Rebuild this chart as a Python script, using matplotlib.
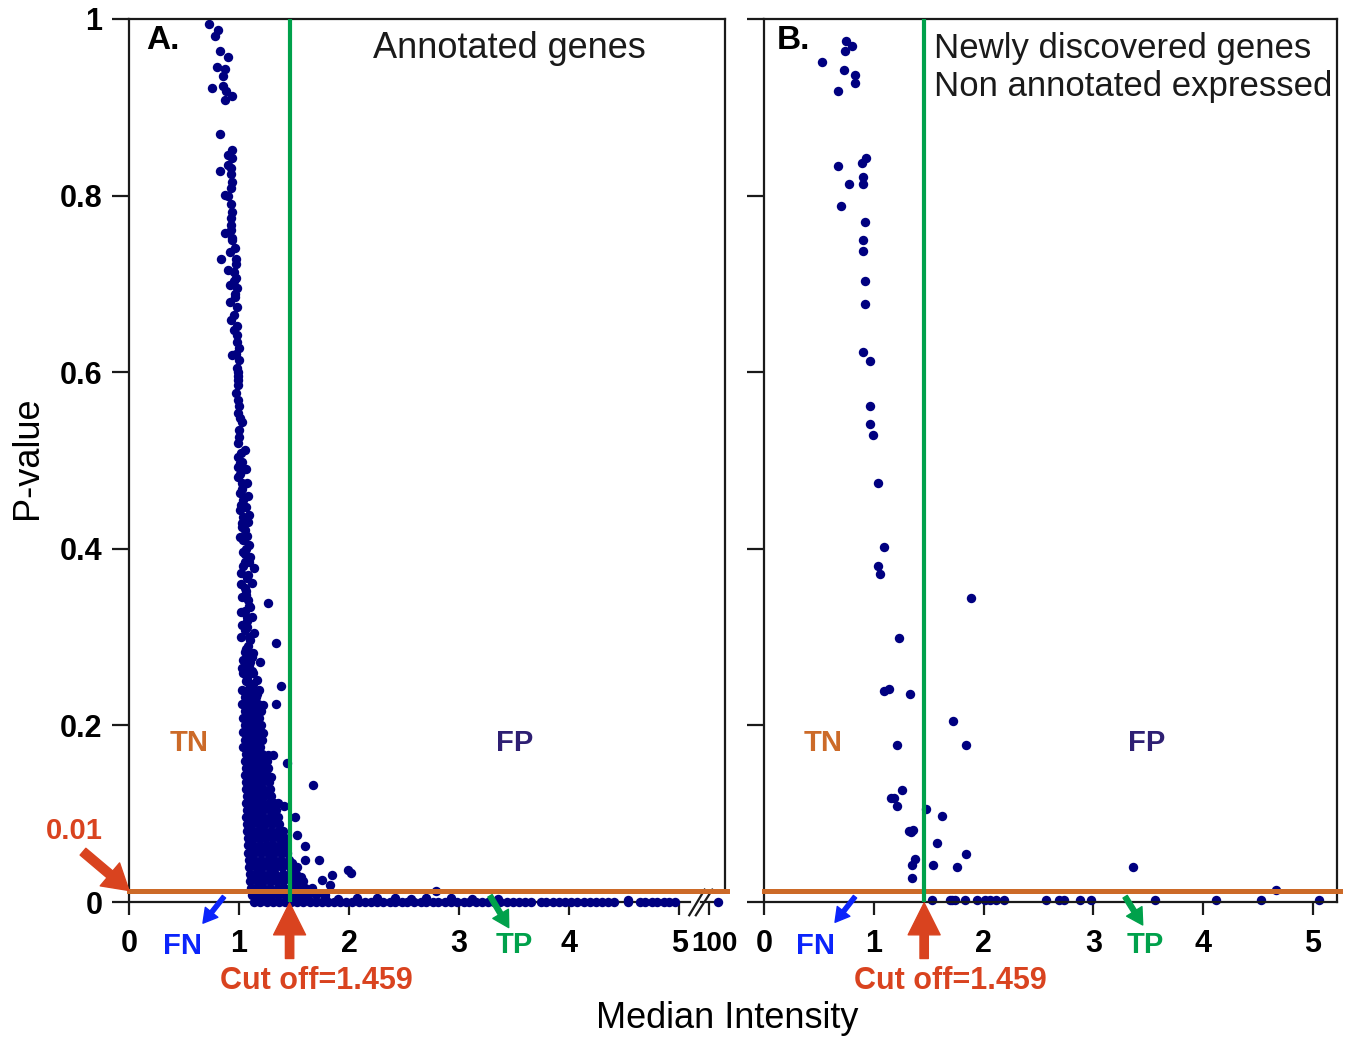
import numpy as np
import matplotlib.pyplot as plt

plt.rcParams["font.family"] = ["Liberation Sans", "DejaVu Sans"]

CUTOFF = 1.459
P_LINE = 0.013  # where the 0.01 threshold line is drawn

NAVY = "#000080"
GREEN = "#00a14b"
ORANGE = "#cc6a28"
RED = "#d9431f"
BLUE = "#0b24fb"
PURPLE = "#2e1f73"

# ---------------- panel A: annotated genes ----------------
# upper tail of the cloud (median intensity, p-value)
a_tail_x = [0.73, 0.81, 0.78, 0.83, 0.90, 0.80, 0.87, 0.85, 0.75, 0.85, 0.88, 0.94, 0.87,
            0.83, 0.94, 0.90, 0.94, 0.90, 0.93, 0.83, 0.93, 0.94, 0.93, 0.87, 0.90, 0.93,
            0.94, 0.93, 0.93, 0.87, 0.93, 0.94,
            0.94, 0.92, 0.84, 0.97, 0.90, 0.95, 0.97, 0.92, 0.98, 0.96, 0.92, 0.98, 0.95,
            0.93, 0.95, 0.98, 0.98, 1.00, 0.94, 1.00, 0.98, 0.99, 0.99, 0.99, 0.97, 0.99,
            0.99, 1.03, 1.00, 0.99, 1.05, 0.99, 1.03, 0.99,
            1.01, 1.03, 0.99, 1.04, 1.01, 1.04, 1.09, 1.01, 1.03, 1.05, 1.01, 1.09, 1.04,
            1.10, 1.05, 1.14, 1.02, 1.07, 1.12, 1.05, 1.03, 1.08, 1.26, 1.10, 1.02, 1.07,
            1.12, 1.03, 1.05, 1.14, 1.10, 1.34, 1.05, 1.13, 1.04, 1.10, 1.19, 1.08, 1.04,
            1.13, 1.07, 1.16, 1.38, 1.10,
            1.06, 1.07, 1.08, 1.06, 1.08, 1.07, 1.06, 1.09, 1.08, 1.06, 1.09, 1.07, 1.09,
            1.08, 1.12, 1.09, 1.12, 1.06, 1.13, 1.02, 1.02, 1.03, 1.04, 1.02, 1.03,
            0.96, 0.97, 0.95, 0.96, 0.98, 0.97, 0.99, 1.00, 1.01, 1.00, 1.02, 1.01, 1.03,
            1.04, 1.03, 1.05, 1.04, 1.06, 1.05, 1.07, 1.06, 1.08, 1.07, 1.09]
a_tail_p = [0.994, 0.988, 0.981, 0.964, 0.957, 0.946, 0.943, 0.935, 0.922, 0.924, 0.918,
            0.913, 0.908, 0.870, 0.852, 0.846, 0.843, 0.835, 0.831, 0.828, 0.824, 0.815,
            0.809, 0.801, 0.800, 0.790, 0.781, 0.775, 0.767, 0.758, 0.761, 0.752,
            0.750, 0.736, 0.728, 0.728, 0.716, 0.714, 0.707, 0.699, 0.695, 0.685, 0.680,
            0.674, 0.665, 0.659, 0.648, 0.642, 0.634, 0.627, 0.619, 0.614, 0.605, 0.600,
            0.591, 0.585, 0.576, 0.569, 0.554, 0.544, 0.535, 0.520, 0.512, 0.504, 0.498,
            0.493,
            0.497, 0.489, 0.481, 0.472, 0.463, 0.455, 0.438, 0.444, 0.429, 0.421, 0.413,
            0.404, 0.396, 0.391, 0.385, 0.378, 0.373, 0.367, 0.361, 0.356, 0.345, 0.342,
            0.339, 0.334, 0.328, 0.323, 0.323, 0.314, 0.308, 0.305, 0.297, 0.293, 0.283,
            0.282, 0.274, 0.272, 0.272, 0.265, 0.259, 0.259, 0.254, 0.251, 0.245, 0.243,
            0.490, 0.475, 0.460, 0.447, 0.430, 0.415, 0.400, 0.385, 0.370, 0.352, 0.335,
            0.318, 0.300, 0.290, 0.278, 0.268, 0.262, 0.250, 0.247, 0.360, 0.300, 0.265,
            0.410, 0.450, 0.475,
            0.741, 0.722, 0.703, 0.689, 0.652, 0.621, 0.596, 0.562, 0.548, 0.527, 0.508,
            0.485, 0.468, 0.436, 0.425, 0.394, 0.380, 0.348, 0.330, 0.311, 0.287, 0.277,
            0.256, 0.248]

# dense core just above zero: p-value row -> intensities
a_core = {
    0.240: [1.03, 1.08, 1.13, 1.18],
    0.232: [1.05, 1.10, 1.15],
    0.224: [1.03, 1.07, 1.12, 1.17],
    0.216: [1.05, 1.10, 1.15, 1.20],
    0.208: [1.04, 1.08, 1.13, 1.18],
    0.200: [1.05, 1.10, 1.15, 1.20],
    0.192: [1.04, 1.09, 1.14, 1.18],
    0.184: [1.05, 1.10, 1.15, 1.21],
    0.176: [1.04, 1.09, 1.14, 1.19],
    0.168: [1.06, 1.11, 1.16, 1.21],
    0.160: [1.05, 1.10, 1.15, 1.20, 1.25],
    0.152: [1.06, 1.11, 1.16, 1.21, 1.26],
    0.144: [1.05, 1.10, 1.15, 1.20, 1.25],
    0.136: [1.06, 1.11, 1.16, 1.21, 1.27],
    0.128: [1.06, 1.11, 1.16, 1.22, 1.28],
    0.120: [1.07, 1.12, 1.17, 1.23, 1.29],
    0.112: [1.06, 1.11, 1.16, 1.21, 1.27, 1.32],
    0.104: [1.07, 1.12, 1.17, 1.22, 1.28, 1.34],
    0.096: [1.06, 1.11, 1.16, 1.22, 1.28, 1.35],
    0.088: [1.07, 1.12, 1.18, 1.24, 1.30, 1.36],
    0.080: [1.07, 1.12, 1.17, 1.23, 1.29, 1.35, 1.40],
    0.072: [1.08, 1.13, 1.18, 1.24, 1.30, 1.36, 1.42],
    0.064: [1.08, 1.13, 1.19, 1.25, 1.31, 1.37, 1.43],
    0.056: [1.08, 1.14, 1.20, 1.26, 1.32, 1.38, 1.44],
    0.048: [1.09, 1.14, 1.20, 1.26, 1.32, 1.38, 1.45],
    0.040: [1.09, 1.15, 1.21, 1.27, 1.33, 1.39, 1.46, 1.50],
    0.032: [1.10, 1.15, 1.21, 1.27, 1.33, 1.40, 1.46, 1.52],
    0.024: [1.10, 1.16, 1.22, 1.28, 1.34, 1.40, 1.47, 1.53, 1.58],
    0.016: [1.11, 1.16, 1.22, 1.28, 1.35, 1.41, 1.48, 1.54, 1.60, 1.66],
    0.008: [1.12, 1.17, 1.23, 1.29, 1.35, 1.42, 1.48, 1.55, 1.62, 1.70, 1.78],
}
# genes lying between the rows above
a_core_mid = {
    0.236: [1.06, 1.11, 1.16],
    0.220: [1.06, 1.10, 1.15],
    0.204: [1.07, 1.12, 1.16],
    0.188: [1.07, 1.12, 1.17],
    0.172: [1.07, 1.12, 1.17],
    0.156: [1.08, 1.13, 1.18, 1.23],
    0.140: [1.08, 1.13, 1.18, 1.23],
    0.124: [1.09, 1.14, 1.20, 1.26],
    0.108: [1.09, 1.14, 1.19, 1.25, 1.31],
    0.092: [1.09, 1.14, 1.20, 1.26, 1.33],
    0.076: [1.10, 1.15, 1.21, 1.27, 1.33, 1.38],
    0.060: [1.11, 1.16, 1.22, 1.28, 1.34, 1.40],
    0.044: [1.12, 1.17, 1.23, 1.29, 1.36, 1.42, 1.48],
    0.028: [1.13, 1.18, 1.24, 1.31, 1.37, 1.44, 1.50, 1.56],
    0.012: [1.14, 1.20, 1.26, 1.32, 1.38, 1.45, 1.52, 1.58, 1.65],
}

# scattered points right of the core
a_out_x = [1.34, 1.22, 1.22, 1.26, 1.31, 1.44, 1.67, 1.29, 1.35, 1.41, 1.31, 1.51, 1.53,
           1.60, 1.60, 1.73, 1.53, 1.84, 1.99, 2.02, 1.75, 1.83, 2.79]
a_out_p = [0.224, 0.223, 0.191, 0.166, 0.166, 0.157, 0.132, 0.142, 0.112, 0.109, 0.096,
           0.096, 0.076, 0.063, 0.048, 0.048, 0.040, 0.031, 0.036, 0.033, 0.025, 0.019,
           0.012]

# genes with p ~ 0
a_zero_x = [1.14, 1.19, 1.25, 1.31, 1.36, 1.42, 1.47, 1.53, 1.58, 1.64, 1.70, 1.75, 1.81,
            1.86, 1.92, 1.97, 2.03, 2.09, 2.14, 2.20, 2.25, 2.31, 2.37, 2.42, 2.48, 2.53,
            2.59, 2.65, 2.70, 2.76, 2.81, 2.87, 2.93, 2.98, 3.04, 3.09, 3.15, 3.21, 3.26,
            3.32, 3.37, 3.43, 3.49, 3.54, 3.60, 3.65, 3.74, 3.79, 3.85, 3.91, 3.96, 4.02,
            4.07, 4.13, 4.19, 4.24, 4.30, 4.35, 4.41, 4.53, 4.64, 4.69, 4.75, 4.80, 4.86,
            4.91, 4.96]
a_low_x = [1.52, 1.63, 1.78, 1.90, 2.07, 2.25, 2.42, 2.56, 2.70, 2.93, 3.12, 3.35, 4.53]
a_low_p = [0.004, 0.003, 0.005, 0.003, 0.004, 0.005, 0.005, 0.003, 0.004, 0.004, 0.003,
           0.003, 0.002]

# beyond the axis break
a_far_x = [101.6]
a_far_p = [0.0]

# ---------------- panel B: newly discovered genes ----------------
b_x = [0.75, 0.80, 0.74, 0.53, 0.73, 0.83, 0.83, 0.67, 0.93, 0.89, 0.67, 0.90, 0.77, 0.90,
       0.70, 0.92, 0.90, 0.90, 0.92, 0.92, 0.90, 0.97, 0.97, 0.97, 0.99,
       1.04, 1.09, 1.04, 1.06, 1.89, 1.23, 1.09, 1.14, 1.33, 1.72, 1.21, 1.84, 1.26, 1.16,
       1.18, 1.21, 1.48, 1.62, 1.32, 1.36, 1.34, 1.58, 1.84, 1.38, 1.35, 1.54, 1.76, 3.36,
       1.35, 4.66,
       1.53, 1.69, 1.71, 1.74, 1.83, 1.94, 2.01, 2.06, 2.11, 2.19, 2.57, 2.69, 2.73, 2.88,
       2.98, 3.56, 4.12, 4.53, 5.06]
b_p = [0.975, 0.969, 0.964, 0.951, 0.942, 0.937, 0.927, 0.918, 0.843, 0.837, 0.834, 0.821,
       0.813, 0.813, 0.788, 0.770, 0.750, 0.737, 0.703, 0.677, 0.623, 0.613, 0.562, 0.541,
       0.529,
       0.475, 0.402, 0.381, 0.371, 0.344, 0.299, 0.239, 0.241, 0.236, 0.205, 0.178, 0.178,
       0.127, 0.118, 0.118, 0.109, 0.105, 0.097, 0.080, 0.082, 0.079, 0.067, 0.054, 0.049,
       0.042, 0.042, 0.040, 0.040, 0.027, 0.014,
       0.002, 0.002, 0.002, 0.002, 0.002, 0.002, 0.002, 0.002, 0.002, 0.002, 0.002, 0.002,
       0.002, 0.002, 0.002, 0.002, 0.002, 0.002, 0.002]

y_ticks = [0, 0.2, 0.4, 0.6, 0.8, 1]
y_labels = ["0", "0.2", "0.4", "0.6", "0.8", "1"]
x_ticks = [0, 1, 2, 3, 4, 5]


def brk(x):
    # values past the break (around 100) are squeezed next to 5
    x = np.asarray(x, dtype=float)
    return np.where(x > 10, 5.27 + (x - 100) * 0.05, x)


core = {**a_core, **a_core_mid}
core_x = [x for p, xs in core.items() for x in xs]
core_p = [p for p, xs in core.items() for x in xs]

all_ax = np.concatenate([a_tail_x, core_x, a_out_x, a_zero_x, a_low_x, brk(a_far_x)])
all_ap = np.concatenate([a_tail_p, core_p, a_out_p, np.zeros(len(a_zero_x)), a_low_p, a_far_p])

fig = plt.figure(figsize=(13.5, 10.43), dpi=100)
axA = fig.add_axes([129 / 1350, 141 / 1043, 596 / 1350, 883 / 1043])
axB = fig.add_axes([764 / 1350, 141 / 1043, 573 / 1350, 883 / 1043])

for ax in (axA, axB):
    ax.set_ylim(0, 1)
    for s in ax.spines.values():
        s.set_linewidth(1.6)
        s.set_color("#1a1a1a")
    ax.tick_params(axis="y", direction="out", length=12, width=1.6, pad=7, color="#1a1a1a")
    ax.tick_params(axis="x", direction="out", length=9.5, width=1.6, pad=10, color="#1a1a1a")
    ax.set_yticks(y_ticks)

axA.set_xlim(0, 5.415)
axB.set_xlim(0, 5.22)

MS = 46

# panel A
axA.scatter(all_ax, all_ap, s=MS, color=NAVY, linewidths=0, zorder=2, clip_on=False)
axA.axhline(P_LINE, xmin=0, xmax=1.004, color=ORANGE, lw=3.6, zorder=3, clip_on=False)
axA.axvline(CUTOFF, color=GREEN, lw=3, zorder=4)
axA.spines["bottom"].set_visible(False)
axA.spines["right"].set_visible(False)
axA.plot([1, 1], [P_LINE, 1], transform=axA.transAxes, color="#1a1a1a", lw=1.6, clip_on=False)
axA.plot([0, 5.10], [0, 0], color="#1a1a1a", lw=1.6, clip_on=False, zorder=1)
axA.plot([5.20, 5.33], [0, 0], color="#1a1a1a", lw=1.6, clip_on=False, zorder=1)
axA.plot([5.09, 5.23], [-0.015, 0.014], color="#1a1a1a", lw=1.6, clip_on=False)
axA.plot([5.15, 5.30], [-0.015, 0.014], color="#1a1a1a", lw=1.6, clip_on=False)
axA.set_xticks(x_ticks + [float(brk([100])[0])], ["0", "1", "2", "3", "4", "5", ""],
               fontsize=22, fontweight="bold")
# the label of the broken-axis tick sits a little to the right, as in the original
axA.text(5.315, -0.047, "100", fontsize=20, fontweight="bold", ha="center", va="center")
axA.set_yticklabels(y_labels, fontsize=22, fontweight="bold")

# panel B
axB.scatter(b_x, b_p, s=MS, color=NAVY, linewidths=0, zorder=2, clip_on=False)
axB.axhline(P_LINE, xmin=0, xmax=1.005, color=ORANGE, lw=3.6, zorder=3, clip_on=False)
axB.axvline(CUTOFF, color=GREEN, lw=3, zorder=4)
axB.set_xticks(x_ticks, ["0", "1", "2", "3", "4", "5"], fontsize=22, fontweight="bold")
axB.set_yticklabels([])


def arrow(ax, tail, tip, color, scale, hl, hw, tw):
    ax.annotate("", xy=tip, xytext=tail,
                arrowprops=dict(arrowstyle=f"simple,head_length={hl},head_width={hw},tail_width={tw}",
                                color=color, shrinkA=0, shrinkB=0, mutation_scale=scale),
                annotation_clip=False)


def decorate(ax, letter, letter_x, fn_x, fn_tail, fn_tip, tp_x, tp_tail, tp_tip, tn_x, fp_x):
    ax.text(letter_x, 0.976, letter, fontsize=24, fontweight="bold", va="center", ha="left")
    ax.text(tn_x, 0.18, "TN", color=ORANGE, fontsize=21, fontweight="bold", ha="center", va="center")
    ax.text(fp_x, 0.18, "FP", color=PURPLE, fontsize=21, fontweight="bold", ha="center", va="center")
    ax.text(fn_x, -0.050, "FN", color=BLUE, fontsize=21, fontweight="bold", ha="center", va="center")
    ax.text(tp_x, -0.049, "TP", color=GREEN, fontsize=21, fontweight="bold", ha="center", va="center")
    ax.text(CUTOFF + 0.24, -0.089, "Cut off=1.459", color=RED, fontsize=22, fontweight="bold",
            ha="center", va="center")
    arrow(ax, fn_tail, fn_tip, BLUE, 10, 1.0, 1.15, 0.3)
    arrow(ax, tp_tail, tp_tip, GREEN, 10, 1.15, 1.3, 0.36)
    arrow(ax, (CUTOFF, -0.064), (CUTOFF, -0.001), RED, 20, 1.15, 1.15, 0.3)


decorate(axA, "A.", 0.16, 0.49, (0.863, 0.006), (0.672, -0.024), 3.50, (3.28, 0.007), (3.45, -0.029), 0.55, 3.50)
decorate(axB, "B.", 0.12, 0.47, (0.829, 0.006), (0.647, -0.023), 3.47, (3.29, 0.006), (3.45, -0.026), 0.54, 3.49)

axA.text(3.46, 0.967, "Annotated genes", fontsize=26, ha="center", va="center", color="#1a1a1a")
axB.text(1.55, 0.967, "Newly discovered genes", fontsize=25, ha="left", va="center", color="#1a1a1a")
axB.text(1.55, 0.924, "Non annotated expressed", fontsize=25, ha="left", va="center", color="#1a1a1a")

axA.text(-0.50, 0.080, "0.01", color=RED, fontsize=21, fontweight="bold", ha="center", va="center")
arrow(axA, (-0.418, 0.057), (0.0, P_LINE), RED, 20, 0.9, 1.08, 0.32)

fig.text(28 / 1350, 1 - 458 / 1043, "P-value", rotation=90, fontsize=26, ha="center", va="center")
fig.text(727 / 1350, 1 - 1018 / 1043, "Median Intensity", fontsize=26, ha="center", va="center")

fig.savefig("out.png", dpi=100)
